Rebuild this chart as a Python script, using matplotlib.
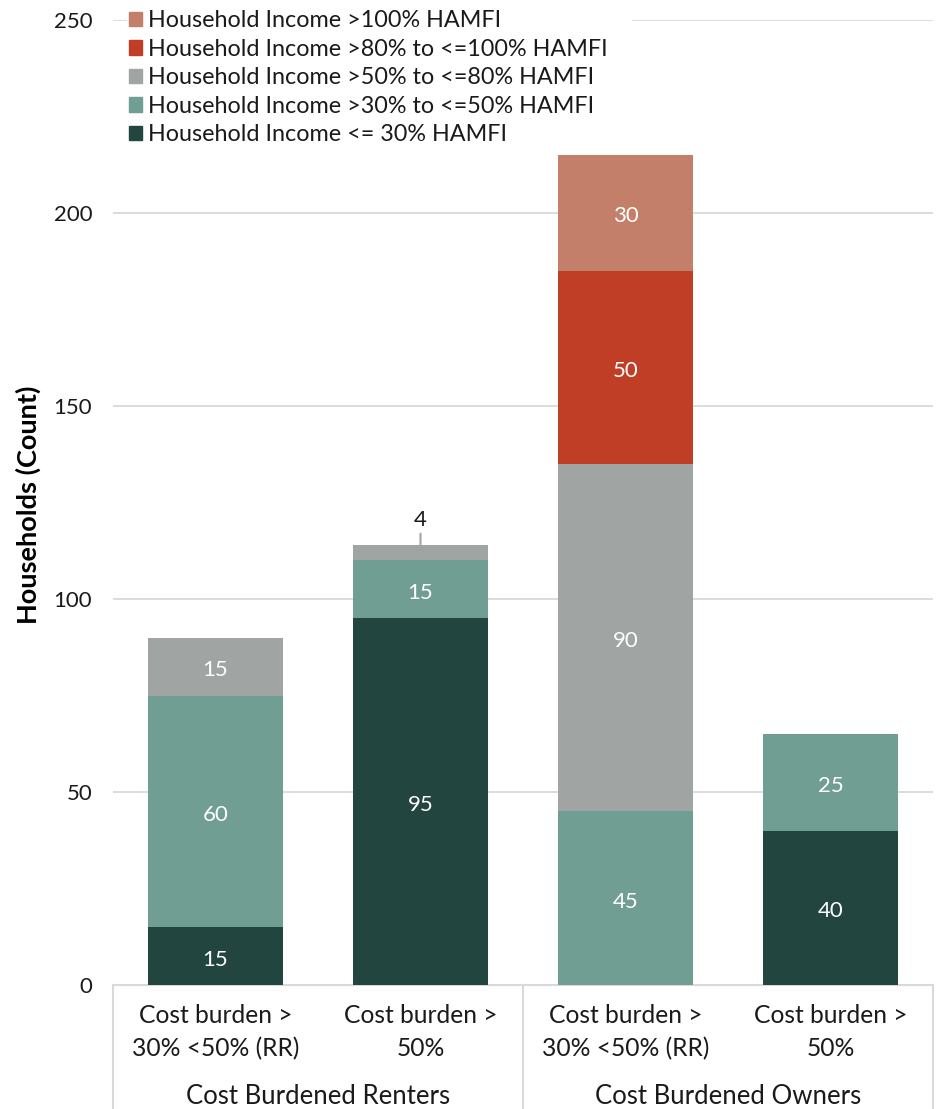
import matplotlib
matplotlib.use("Agg")
import matplotlib.pyplot as plt
import matplotlib.transforms as mtransforms
from matplotlib.patches import Patch
import numpy as np

plt.rcParams['font.family'] = ['Lato', 'DejaVu Sans']

categories = ["Cost burden >\n30% <50% (RR)", "Cost burden >\n50%",
              "Cost burden >\n30% <50% (RR)", "Cost burden >\n50%"]
groups = ["Cost Burdened Renters", "Cost Burdened Owners"]

series_names = ["Household Income <= 30% HAMFI",
                "Household Income >30% to <=50% HAMFI",
                "Household Income >50% to <=80% HAMFI",
                "Household Income >80% to <=100% HAMFI",
                "Household Income >100% HAMFI"]
le30 = [15, 95, 0, 40]
p30_50 = [60, 15, 45, 25]
p50_80 = [15, 4, 90, 0]
p80_100 = [0, 0, 50, 0]
gt100 = [0, 0, 30, 0]
series_values = [le30, p30_50, p50_80, p80_100, gt100]
colors = ["#234540", "#719E92", "#A0A4A2", "#C03D26", "#C47F6B"]

yticks = [0, 50, 100, 150, 200, 250]

fig = plt.figure(figsize=(9.4, 11.09), dpi=100)
ax = fig.add_axes([113/940, 124/1109, (933-113)/940, (985-20)/1109])

x = np.arange(len(categories))
bottom = np.zeros(len(categories))
width = 0.663
for name, vals, col in zip(series_names, series_values, colors):
    vals = np.array(vals, dtype=float)
    bars = ax.bar(x, vals, width, bottom=bottom, color=col, label=name, zorder=3)
    labels = [f"{int(v)}" if v >= 10 else "" for v in vals]
    anns = ax.bar_label(bars, labels=labels, label_type='center', color='white',
                        fontsize=16)
    for a in anns:
        a.xyann = (0, -2.5)
    for i, v in enumerate(vals):
        if 0 < v < 10:
            top = bottom[i] + v
            ax.annotate(f"{int(v)}", xy=(x[i], top), xytext=(x[i], top + 4.0),
                        ha='center', va='bottom', fontsize=16, color='#1a1a1a',
                        arrowprops=dict(arrowstyle='-', color='#a0a4a2', lw=1.5,
                                        shrinkA=1, shrinkB=0))
    bottom += vals

ax.set_xlim(-0.5, 3.5)
ax.set_ylim(0, 250)
ax.set_yticks(yticks)
ax.set_yticklabels([str(t) for t in yticks], fontsize=16, color='#1a1a1a')
ax.yaxis.grid(True, color='#d9d9d9', lw=1.3, zorder=0)
ax.set_axisbelow(True)
ax.tick_params(axis='y', length=0, pad=15)
ax.tick_params(axis='x', length=0, pad=14)
ax.set_xticks(x)
ax.set_xticklabels(categories, fontsize=17.7, color='#1a1a1a', linespacing=1.49)
for s in ['top', 'right', 'left']:
    ax.spines[s].set_visible(False)
ax.spines['bottom'].set_color('#d9d9d9')
ax.spines['bottom'].set_linewidth(1.5)

fig.text(28/940, 1 - 505/1109, "Households (Count)", rotation=90, ha='center',
         va='center', fontsize=19.5, fontweight='bold', color='black')

# group separators and labels
trans = mtransforms.blended_transform_factory(ax.transData, ax.transAxes)
for xv in [-0.5, 1.5, 3.5]:
    ax.plot([xv, xv], [0, -124/965], transform=trans, color='#d9d9d9', lw=1.5,
            clip_on=False)
for gi, g in enumerate(groups):
    ax.text(0.5 + 2*gi, -112/965, g, transform=trans, ha='center', va='center',
            fontsize=18.5, color='#1a1a1a')

handles = [Patch(color=c, label=n) for n, c in zip(series_names, colors)][::-1]
leg = fig.legend(handles=handles, loc='upper left',
                 bbox_to_anchor=(127/940, 1 - 8/1109 - 0.01, (632-127)/940, 0.01),
                 mode='expand', fontsize=16.8, frameon=True, facecolor='white',
                 edgecolor='none', framealpha=1, fancybox=False,
                 handlelength=0.56, handleheight=0.56, handletextpad=0.22,
                 labelspacing=0.32, borderpad=0.1, borderaxespad=0)
for t in leg.get_texts():
    t.set_color('#1a1a1a')
leg.set_zorder(10)

fig.savefig("out.png", dpi=100)
